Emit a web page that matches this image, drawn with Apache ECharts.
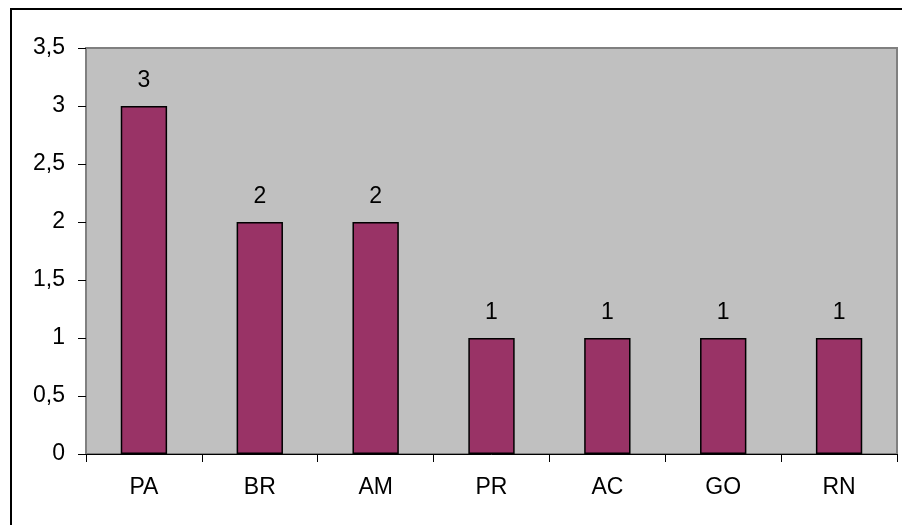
<!DOCTYPE html>
<html>
<head>
<meta charset="utf-8">
<script src="https://cdn.jsdelivr.net/npm/echarts@6/dist/echarts.min.js"></script>
<style>
  html, body { margin: 0; padding: 0; background: #fff; }
  #chart { width: 902px; height: 525px; }
</style>
</head>
<body>
<div id="chart"></div>
<script>
// dados do gráfico
var estados = ['PA', 'BR', 'AM', 'PR', 'AC', 'GO', 'RN'];
var valores = [3, 2, 2, 1, 1, 1, 1];

var myChart = echarts.init(document.getElementById('chart'));

var fonte = { fontFamily: 'Liberation Sans, Arial, sans-serif', fontSize: 23, color: '#000' };

var option = {
    animation: false,
    backgroundColor: '#fff',
    graphic: [{
        type: 'polyline',
        shape: { points: [[11, 525], [11, 9], [902, 9]] },
        style: { stroke: '#000', lineWidth: 2, fill: null }
    }],
    grid: {
        left: 86, top: 48, right: 5, bottom: 71,
        show: true,
        backgroundColor: '#C0C0C0',
        borderColor: '#808080',
        borderWidth: 2
    },
    xAxis: {
        type: 'category',
        data: estados,
        axisLine: { lineStyle: { color: '#000', width: 1 } },
        axisTick: { show: true, length: 8, alignWithLabel: false, lineStyle: { color: '#000' } },
        axisLabel: Object.assign({ margin: 22 }, fonte),
        splitLine: { show: false }
    },
    yAxis: {
        type: 'value',
        min: 0, max: 3.5, interval: 0.5,
        axisLine: { show: true, lineStyle: { color: '#808080', width: 2 } },
        axisTick: { show: true, length: 8, lineStyle: { color: '#000' } },
        axisLabel: Object.assign({
            margin: 21,
            formatter: function (v) { return String(v).replace('.', ','); }
        }, fonte),
        splitLine: { show: false }
    },
    series: [{
        type: 'bar',
        data: valores,
        barWidth: '40%',
        itemStyle: { color: '#993366', borderColor: '#000', borderWidth: 1.5 },
        label: Object.assign({ show: true, position: 'top', distance: 14 }, fonte)
    }]
};

myChart.setOption(option);
</script>
</body>
</html>
